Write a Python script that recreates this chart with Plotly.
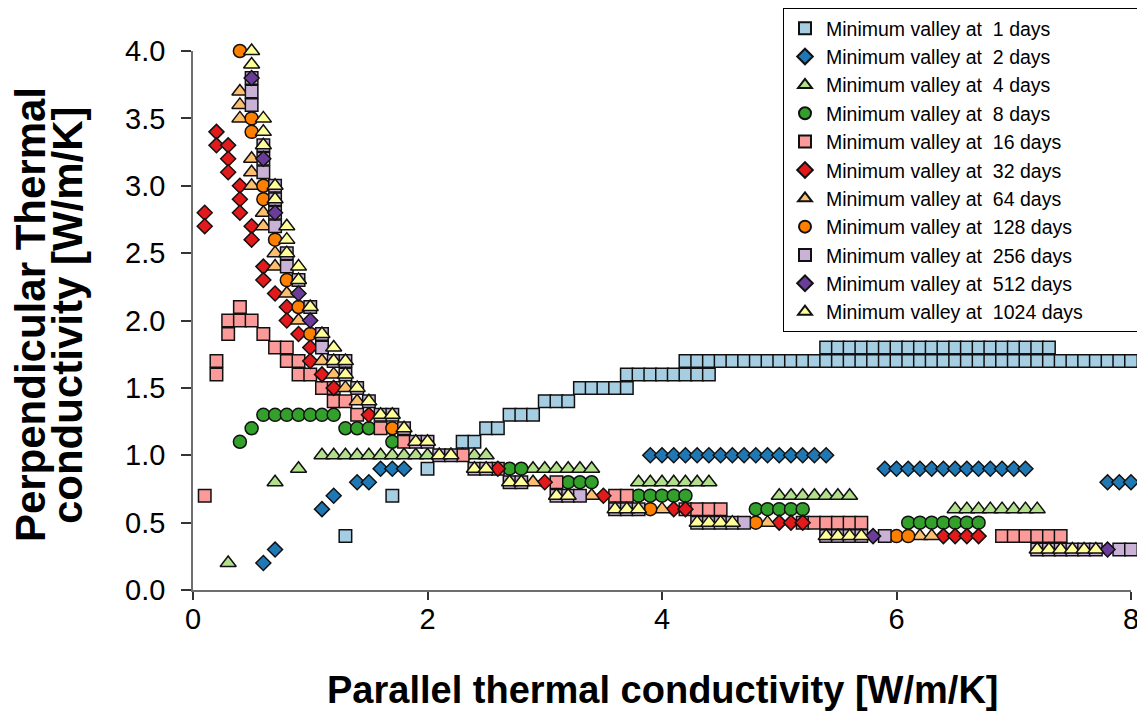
import plotly.graph_objects as go

# ---------------- data (rows: y value -> list of x values) ----------------
labels = ["Minimum valley at\u00a0 1 days", "Minimum valley at\u00a0 2 days", "Minimum valley at\u00a0 4 days",
          "Minimum valley at\u00a0 8 days", "Minimum valley at\u00a0 16 days", "Minimum valley at\u00a0 32 days",
          "Minimum valley at\u00a0 64 days", "Minimum valley at\u00a0 128 days", "Minimum valley at\u00a0 256 days",
          "Minimum valley at\u00a0 512 days", "Minimum valley at\u00a0 1024 days"]

d1_rows = [(0.4, [1.3]), (0.7, [1.7]), (0.9, [2.0]), (1.1, [2.3, 2.4]), (1.2, [2.5, 2.6]),
           (1.3, [2.7, 2.8, 2.9]), (1.4, [3.0, 3.1, 3.2]), (1.5, [3.3, 3.4, 3.5, 3.6, 3.7]),
           (1.6, [3.7, 3.8, 3.9, 4.0, 4.1, 4.2, 4.3, 4.4]),
           (1.7, [4.2, 4.3, 4.4, 4.5, 4.6, 4.7, 4.8, 4.9, 5.0, 5.1, 5.2, 5.3, 5.4, 5.5, 5.6, 5.7, 5.8, 5.9,
                  6.0, 6.1, 6.2, 6.3, 6.4, 6.5, 6.6, 6.7, 6.8, 6.9, 7.0, 7.1, 7.2, 7.3, 7.4, 7.5, 7.6, 7.7,
                  7.8, 7.9, 8.0]),
           (1.8, [5.4, 5.5, 5.6, 5.7, 5.8, 5.9, 6.0, 6.1, 6.2, 6.3, 6.4, 6.5, 6.6, 6.7, 6.8, 6.9, 7.0, 7.1,
                  7.2, 7.3])]

d2_rows = [(0.2, [0.6]), (0.3, [0.7]), (0.6, [1.1]), (0.7, [1.2]), (0.8, [1.4, 1.5]),
           (0.9, [1.6, 1.7, 1.8]),
           (1.0, [3.9, 4.0, 4.1, 4.2, 4.3, 4.4, 4.5, 4.6, 4.7, 4.8, 4.9, 5.0, 5.1, 5.2, 5.3, 5.4]),
           (0.9, [5.9, 6.0, 6.1, 6.2, 6.3, 6.4, 6.5, 6.6, 6.7, 6.8, 6.9, 7.0, 7.1]),
           (0.8, [7.8, 7.9, 8.0])]

d4_rows = [(0.2, [0.3]), (0.8, [0.7]), (0.9, [0.9]),
           (1.0, [1.1, 1.2, 1.3, 1.4, 1.5, 1.6, 1.7, 1.8, 1.9, 2.0, 2.1, 2.2, 2.3, 2.4, 2.5]),
           (0.9, [2.9, 3.0, 3.1, 3.2, 3.3, 3.4]),
           (0.8, [3.8, 3.9, 4.0, 4.1, 4.2, 4.3, 4.4]),
           (0.7, [5.0, 5.1, 5.2, 5.3, 5.4, 5.5, 5.6]),
           (0.6, [6.5, 6.6, 6.7, 6.8, 6.9, 7.0, 7.1, 7.2])]

d8_rows = [(1.1, [0.4]), (1.2, [0.5]), (1.3, [0.6, 0.7, 0.8, 0.9, 1.0, 1.1, 1.2]), (1.2, [1.3, 1.4, 1.5]),
           (1.1, [1.7]), (0.9, [2.7, 2.8]), (0.8, [3.2, 3.3, 3.4]), (0.7, [3.8, 3.9, 4.0, 4.1, 4.2]),
           (0.6, [4.8, 4.9, 5.0, 5.1, 5.2]), (0.5, [6.1, 6.2, 6.3, 6.4, 6.5, 6.6, 6.7])]

d16_rows = [(0.7, [0.1]), (1.6, [0.2]), (1.7, [0.2]), (1.9, [0.3]), (2.0, [0.3, 0.4, 0.5]), (2.1, [0.4]),
            (1.9, [0.6]), (1.8, [0.7, 0.8]), (1.7, [0.8, 0.9]), (1.6, [0.9, 1.0]), (1.5, [1.1, 1.2]),
            (1.4, [1.2, 1.3]), (1.3, [1.4]), (1.2, [1.6]), (1.1, [1.8]), (1.0, [2.3]), (0.9, [2.6]),
            (0.8, [3.1]), (0.7, [3.6, 3.7]), (0.6, [4.2, 4.3, 4.4, 4.5]),
            (0.5, [5.2, 5.3, 5.4, 5.5, 5.6, 5.7]), (0.4, [6.9, 7.0, 7.1, 7.2, 7.3, 7.4])]

d32_rows = [(2.8, [0.1]), (2.7, [0.1]), (3.4, [0.2]), (3.3, [0.2, 0.3]), (3.2, [0.3]), (3.1, [0.3]),
            (3.0, [0.4]), (2.9, [0.4]), (2.8, [0.4]), (2.7, [0.5]), (2.6, [0.5]), (2.4, [0.6]),
            (2.3, [0.6]), (2.2, [0.7]), (2.1, [0.8]), (2.0, [0.8]), (1.9, [0.9]), (1.8, [1.0]),
            (1.7, [1.0]), (1.6, [1.1]), (1.5, [1.2]), (1.3, [1.5]), (0.9, [2.6]), (0.8, [3.0]),
            (0.7, [3.5]), (0.6, [4.1, 4.2]), (0.5, [5.0, 5.1, 5.2]), (0.4, [6.4, 6.5, 6.6, 6.7])]

d64_rows = [(3.7, [0.4]), (3.6, [0.4]), (3.5, [0.4]), (3.2, [0.5]), (3.1, [0.5]), (3.0, [0.5]),
            (2.8, [0.6]), (2.7, [0.6]), (2.5, [0.7]), (2.4, [0.7]), (2.2, [0.8]), (2.0, [0.9]),
            (1.7, [1.1]), (1.6, [1.2]), (1.5, [1.3]), (1.4, [1.4]), (0.8, [2.9]), (0.7, [3.4]),
            (0.6, [4.0]), (0.5, [4.9]), (0.4, [6.2, 6.3])]

d128_rows = [(4.0, [0.4]), (3.5, [0.5]), (3.4, [0.5]), (3.0, [0.6]), (2.9, [0.6]), (2.6, [0.7]),
             (2.3, [0.8]), (2.1, [0.9]), (1.9, [1.0]), (1.2, [1.7]), (0.6, [3.9]), (0.5, [4.8]),
             (0.4, [6.0, 6.1])]

d256_rows = [(3.8, [0.5]), (3.7, [0.5]), (3.6, [0.5]), (3.3, [0.6]), (3.2, [0.6]), (3.1, [0.6]),
             (3.0, [0.7]), (2.9, [0.7]), (2.8, [0.7]), (2.7, [0.7]), (2.5, [0.8]), (2.4, [0.8]),
             (2.3, [0.9]), (2.1, [1.0]), (1.9, [1.1]), (1.8, [1.1]), (1.7, [1.2, 1.3]), (1.6, [1.3]),
             (1.5, [1.4]), (1.4, [1.5]), (1.3, [1.6, 1.7]), (1.2, [1.8]), (1.1, [1.9, 2.0]),
             (1.0, [2.1, 2.2]), (0.9, [2.4, 2.5]), (0.8, [2.7, 2.8]), (0.7, [3.1, 3.2, 3.3]),
             (0.6, [3.6, 3.7, 3.8]), (0.5, [4.3, 4.4, 4.5, 4.6, 4.7]), (0.4, [5.4, 5.5, 5.6, 5.7, 5.9]),
             (0.3, [7.2, 7.3, 7.4, 7.5, 7.6, 7.7, 7.9, 8.0])]

d512_rows = [(3.8, [0.5]), (3.2, [0.6]), (2.8, [0.7]), (2.2, [0.9]), (2.0, [1.0]), (0.4, [5.8]), (0.3, [7.8])]

d1024_rows = [(4.0, [0.5]), (3.9, [0.5]), (3.5, [0.6]), (3.4, [0.6]), (3.3, [0.6]), (3.0, [0.7]),
              (2.9, [0.7]), (2.7, [0.8]), (2.6, [0.8]), (2.5, [0.8]), (2.4, [0.9]), (2.3, [0.9]),
              (2.1, [1.0]), (1.9, [1.1]), (1.8, [1.2]), (1.7, [1.2, 1.3]), (1.6, [1.3]), (1.5, [1.4]),
              (1.4, [1.5]), (1.3, [1.6, 1.7]), (1.2, [1.8]), (1.1, [1.9, 2.0]), (1.0, [2.1, 2.2]),
              (0.9, [2.4, 2.5]), (0.8, [2.7, 2.8]), (0.7, [3.1, 3.2]), (0.6, [3.6, 3.7, 3.8]),
              (0.5, [4.3, 4.4, 4.5, 4.6]), (0.4, [5.4, 5.5, 5.6, 5.7]),
              (0.3, [7.2, 7.3, 7.4, 7.5, 7.6, 7.7])]

series_rows = [d1_rows, d2_rows, d4_rows, d8_rows, d16_rows, d32_rows, d64_rows,
               d128_rows, d256_rows, d512_rows, d1024_rows]

colors = ["#a6cee3", "#1f78b4", "#b2df8a", "#33a02c", "#fb9a99", "#e31a1c",
          "#fdbf6f", "#ff7f00", "#cab2d6", "#6a3d9a", "#ffff99"]
symbols = ["square", "diamond", "triangle-up", "circle", "square", "diamond",
           "triangle-up", "circle", "square", "diamond", "triangle-up"]
sizes = {"square": 12.5, "diamond": 11.5, "triangle-up": 14, "circle": 13}

x_ticks = [0, 2, 4, 6, 8]
y_ticks = [0.0, 0.5, 1.0, 1.5, 2.0, 2.5, 3.0, 3.5, 4.0]

FONT = "Liberation Sans, Arial, sans-serif"
PAD = "\u00a0" * 9   # trailing room inside the legend box, as in the reference

fig = go.Figure()
for rows, name, col, sym in zip(series_rows, labels, colors, symbols):
    xs, ys = [], []
    for yv, xl in rows:
        for xv in xl:
            xs.append(xv)
            ys.append(yv)
    fig.add_trace(go.Scatter(
        x=xs, y=ys, mode="markers", name=name + PAD, cliponaxis=False,
        marker=dict(symbol=sym, color=col, size=sizes[sym],
                    line=dict(color="#111111", width=1.5)),
    ))

axis_common = dict(showgrid=False, zeroline=False, showline=True, linecolor="#6e6e6e",
                   linewidth=1.5, ticks="outside", tickcolor="#333333", tickwidth=1.5,
                   tickfont=dict(family=FONT, size=29, color="black"))

fig.update_xaxes(range=[0, 8], tickvals=x_ticks, ticktext=[str(v) for v in x_ticks],
                 ticklen=8, ticklabelstandoff=-6, **axis_common)
fig.update_yaxes(range=[0, 4], tickvals=y_ticks, ticktext=[f"{v:.1f}" for v in y_ticks],
                 ticklen=10, ticklabelstandoff=10, **axis_common)

fig.add_annotation(text="Parallel thermal conductivity [W/m/K]", xref="paper", yref="paper",
                   x=0.5, y=0, yanchor="middle", yshift=-100, showarrow=False,
                   font=dict(family=FONT, size=38, color="black", weight="bold"))
fig.add_annotation(text="Perpendicular Thermal", xref="paper", yref="paper",
                   x=(30 - 193) / 938, y=0.51, xanchor="center", yanchor="middle",
                   textangle=-90, showarrow=False,
                   font=dict(family=FONT, size=42, color="black", weight="bold"))
fig.add_annotation(text="conductivity [W/m/K]", xref="paper", yref="paper",
                   x=(67 - 193) / 938, y=0.51, xanchor="center", yanchor="middle",
                   textangle=-90, showarrow=False,
                   font=dict(family=FONT, size=42, color="black", weight="bold"))

# page has an 8px body margin; figure is sized/placed so the plot area matches the reference
fig.update_layout(
    width=1137, height=705,
    margin=dict(l=185, r=14, t=43, b=123, autoexpand=False),
    paper_bgcolor="white", plot_bgcolor="white",
    showlegend=True,
    legend=dict(x=(783 - 193) / 938, y=(590 - 8) / 539, xanchor="left", yanchor="top",
                bordercolor="black", borderwidth=1, bgcolor="white",
                font=dict(family=FONT, size=19.5, color="black"),
                itemsizing="constant", itemwidth=32),
)

fig.write_html("out.html")
